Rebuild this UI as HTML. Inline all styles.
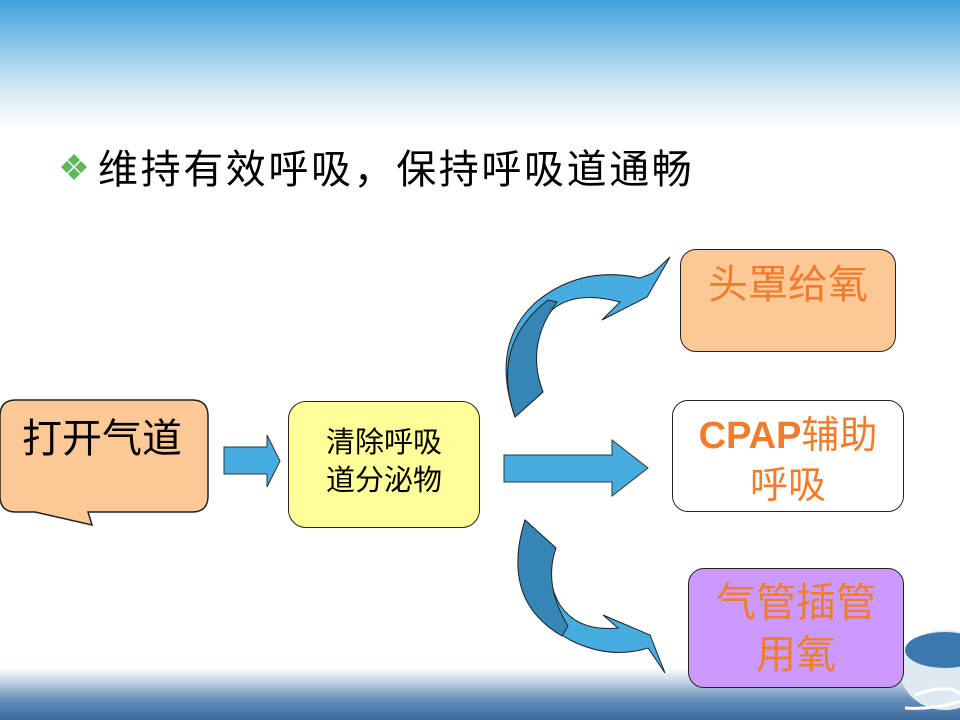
<!DOCTYPE html>
<html><head><meta charset="utf-8"><style>
html,body{margin:0;padding:0}
body{width:960px;height:720px;position:relative;overflow:hidden;background:#fff;font-family:"Liberation Sans","Noto Sans CJK SC",sans-serif}
.hdr{position:absolute;left:0;top:0;width:960px;height:130px;background:linear-gradient(#3ea3dc 0%,#8cc6ea 35%,#d6ebf7 70%,#fff 100%)}
.sea{position:absolute;left:0;top:668px;width:960px;height:52px;background:linear-gradient(#fff 0%,#c4d6e8 25%,#6a90ba 60%,#3a6a9e 100%)}
.t{position:absolute;white-space:nowrap}
.box{position:absolute;box-sizing:border-box;border:1.5px solid #222;border-radius:16px;text-align:center;font-family:"Liberation Sans","Noto Sans CJK SC",sans-serif}
</style></head><body>
<div class="hdr"></div>
<div class="sea"></div>
<svg style="position:absolute;left:895px;top:610px" width="65" height="110"><ellipse cx="50" cy="60" rx="45" ry="40" fill="#dfe9f2"/><ellipse cx="50" cy="40" rx="40" ry="18" fill="#3b78b0"/><path d="M20 85 Q60 70 70 90 Q40 100 10 98" fill="none" stroke="#fff" stroke-width="3"/></svg>

<svg style="position:absolute;left:60px;top:153px" width="32" height="32">
<g fill="#5cb85c"><path d="M14 1 L20 7 L14 13 L8 7Z"/><path d="M7 8 L13 14 L7 20 L1 14Z"/><path d="M21 8 L27 14 L21 20 L15 14Z"/><path d="M14 15 L20 21 L14 27 L8 21Z"/></g></svg>
<div class="t" style="left:98px;top:145px;font-size:40px;letter-spacing:2.6px;line-height:50px;color:#000">维持有效呼吸，保持呼吸道通畅</div>

<svg style="position:absolute;left:0;top:0" width="960" height="720">
<path d="M16 400 H192 Q208 400 208 416 V496 Q208 512 192 512 H88 L92 525 L35 512 H16 Q0 512 0 496 V416 Q0 400 16 400Z" fill="#fcc896" stroke="#222" stroke-width="1.5"/>
<path d="M224 447 H267 V435 L280 461 L267 487 V474 H224Z" fill="#47ace0" stroke="#333" stroke-width="1"/>
<path d="M504 455 H612 V440 L648 468 L612 496 V482 H504Z" fill="#47ace0" stroke="#333" stroke-width="1"/>
<path d="M515 417 Q490 345 535 303 Q580 265 640 278 L653 273 L670 257 L647 297 L602 320 L620 302 Q575 290 552 310 Q525 345 543 392Z" fill="#47ace0" stroke="#222" stroke-width="1"/>
<path d="M515 417 Q490 345 548 300 L557 302 Q525 345 543 392Z" fill="#3585b5" stroke="#222" stroke-width="1"/>
<path d="M525 520 Q500 600 570 640 Q610 660 648 648 L665 673 L650 635 L603 615 L618 628 Q578 632 560 605 Q543 575 556 548Z" fill="#47ace0" stroke="#222" stroke-width="1"/>
<path d="M525 520 Q500 600 562 636 L568 626 Q543 585 556 548Z" fill="#3585b5" stroke="#222" stroke-width="1"/>
</svg>
<div class="t" style="left:22px;top:414px;font-size:40px;line-height:50px;color:#000">打开气道</div>

<div class="box" style="left:288px;top:401px;width:192px;height:127px;background:#ffff99;border-radius:18px;font-size:29px;line-height:38px;padding-top:22px;color:#000">清除呼吸<br>道分泌物</div>
<div class="box" style="left:680px;top:249px;width:216px;height:103px;background:#fcc896;color:#ef7d2d;font-size:40px;line-height:50px;padding-top:10px">头罩给氧</div>
<div class="box" style="left:672px;top:400px;width:232px;height:112px;background:#fff;color:#ef7d2d;font-size:38px;line-height:50px;padding-top:10px"><b>CPAP</b>辅助<br>呼吸</div>
<div class="box" style="left:688px;top:568px;width:216px;height:120px;background:#cc99ff;color:#ef7d2d;font-size:40px;line-height:52px;padding-top:8px">气管插管<br>用氧</div>
</body></html>
